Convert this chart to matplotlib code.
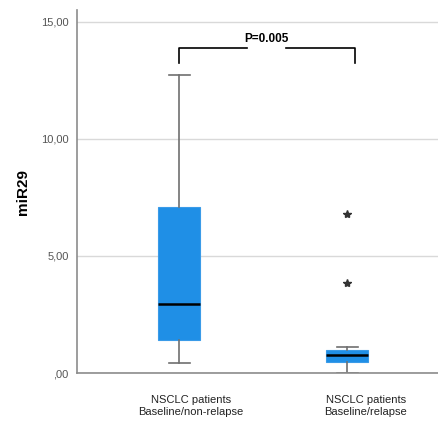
import matplotlib.pyplot as plt

plt.rcParams['font.family'] = ['Liberation Sans', 'DejaVu Sans']

# box statistics
groups = ['NSCLC patients\nBaseline/non-relapse', 'NSCLC patients\nBaseline/relapse']
whislo = [0.43, 0.02]
q1 = [1.41, 0.47]
med = [2.95, 0.76]
q3 = [7.09, 0.98]
whishi = [12.73, 1.12]
fliers = [[], [3.83, 6.78]]
p_text = 'P=0.005'

stats = []
for i in range(len(groups)):
    stats.append(dict(whislo=whislo[i], q1=q1[i], med=med[i], q3=q3[i],
                      whishi=whishi[i], fliers=fliers[i]))

fig = plt.figure(figsize=(4.38, 4.21), dpi=100)
ax = fig.add_axes([0.176, 0.114, 0.824, 0.862])

ax.bxp(stats, positions=[1, 2], widths=0.25, patch_artist=True,
       boxprops=dict(facecolor='#1f8fe6', edgecolor='#3a9be8', linewidth=0.8),
       medianprops=dict(color='black', linewidth=1.8),
       whiskerprops=dict(color='#707070', linewidth=1.2),
       capprops=dict(color='#707070', linewidth=1.2),
       capwidths=0.125,
       flierprops=dict(marker='*', markersize=6, markerfacecolor='#333333',
                       markeredgecolor='#333333', linestyle='none'))

ax.set_xlim(0.393, 2.54)
ax.set_ylim(0, 15.5)
ax.set_yticks([0, 5, 10, 15])
ax.set_yticklabels([',00', '5,00', '10,00', '15,00'])
ax.yaxis.grid(True, color='#d9d9d9', linewidth=1)
ax.set_axisbelow(True)
ax.set_xticks([1.07, 2.11])
ax.set_xticklabels(groups, fontsize=8, color='#222222')
ax.tick_params(axis='x', length=0, pad=16)
ax.tick_params(axis='y', length=0, pad=6, labelsize=8, labelcolor='#555555')
for s in ['top', 'right']:
    ax.spines[s].set_visible(False)
for s in ['left', 'bottom']:
    ax.spines[s].set_color('#8c8c8c')
    ax.spines[s].set_linewidth(1.2)
ax.set_ylabel('miR29', fontsize=11, fontweight='bold', labelpad=8)

# significance bracket
ytop, ybot = 13.9, 13.25
ax.plot([1, 1, 1.405], [ybot, ytop, ytop], color='black', linewidth=1.2)
ax.plot([1.637, 2.048, 2.048], [ytop, ytop, ybot], color='black', linewidth=1.2)
ax.text(1.52, 14.27, p_text, ha='center', va='center', fontsize=8.5, fontweight='bold')

fig.savefig('out.png', dpi=100)
